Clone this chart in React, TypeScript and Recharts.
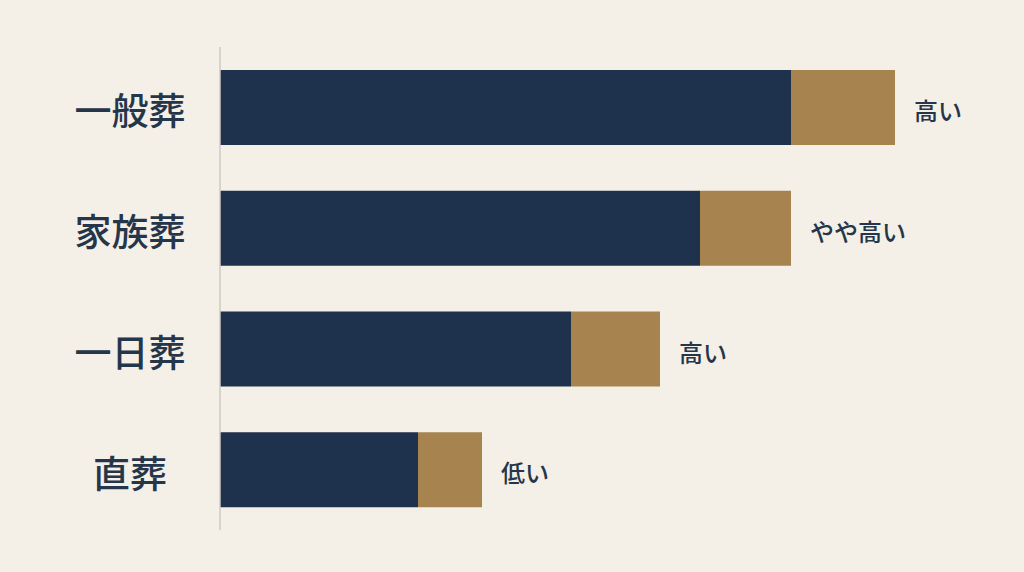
import { BarChart, Bar, XAxis, YAxis, LabelList } from 'recharts';

const categories = ['一般葬', '家族葬', '一日葬', '直葬'];
const baseCost = [114.2, 96, 70.2, 39.6];
const extraCost = [20.8, 18.2, 17.8, 12.8];
const burdenLevels = ['高い', 'やや高い', '高い', '低い'];

const NAVY = '#1f324d';
const GOLD = '#a6834f';
const INK = '#26364a';
const BG = '#f4f0e8';
const FONT = '"Noto Sans CJK JP", "Noto Sans", sans-serif';

const data = categories.map((name, i) => ({
  name,
  base: baseCost[i],
  extra: extraCost[i],
  level: burdenLevels[i],
}));

function CategoryTick({ y, payload }: { y?: number; payload?: { value: string } }) {
  return (
    <text
      x={130}
      y={y}
      dy={2}
      textAnchor="middle"
      dominantBaseline="central"
      fill={INK}
      fontSize={37}
      fontWeight={500}
      fontFamily={FONT}
    >
      {payload?.value}
    </text>
  );
}

function LevelLabel(props: any) {
  const { x, y, width, height, value } = props;
  return (
    <text
      x={Number(x) + Number(width) + 19}
      y={Number(y) + Number(height) / 2}
      dy={2}
      dominantBaseline="central"
      fill={INK}
      fontSize={24}
      fontWeight={500}
      fontFamily={FONT}
    >
      {value}
    </text>
  );
}

export default function App() {
  return (
    <div style={{ position: 'absolute', left: 0, top: 0, width: 1024, height: 572, background: BG }}>
      <BarChart
        width={1024}
        height={572}
        data={data}
        layout="vertical"
        margin={{ top: 47, right: 4, left: 0, bottom: 42 }}
      >
        <XAxis type="number" domain={[0, 160]} hide />
        <YAxis
          type="category"
          dataKey="name"
          width={220}
          axisLine={{ stroke: '#cfcac2', strokeWidth: 1.5 }}
          tickLine={false}
          tick={<CategoryTick />}
        />
        <Bar dataKey="base" stackId="cost" fill={NAVY} barSize={75} isAnimationActive={false} />
        <Bar dataKey="extra" stackId="cost" fill={GOLD} barSize={75} isAnimationActive={false}>
          <LabelList dataKey="level" content={<LevelLabel />} />
        </Bar>
      </BarChart>
    </div>
  );
}
